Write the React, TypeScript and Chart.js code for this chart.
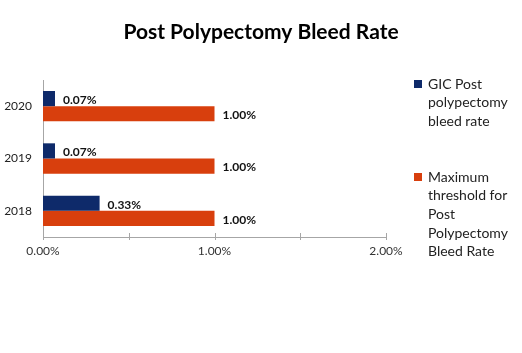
import React, { useEffect, useRef } from "react";
import { Chart, registerables } from "chart.js";

Chart.register(...registerables);

const categories = ["2020", "2019", "2018"];
const gicRate = [0.07, 0.07, 0.33];
const maxThreshold = [1.0, 1.0, 1.0];
const seriesNames = [
  "GIC Post polypectomy bleed rate",
  "Maximum threshold for Post Polypectomy Bleed Rate",
];
const legendLines = [
  ["GIC Post", "polypectomy", "bleed rate"],
  ["Maximum", "threshold for", "Post", "Polypectomy", "Bleed Rate"],
];
const xTickValues = [0, 0.5, 1, 1.5, 2];
const titleText = "Post Polypectomy Bleed Rate";

const NAVY = "#0E2A6A";
const ORANGE = "#D83F0D";
const FONT = "Lato, 'Liberation Sans', sans-serif";

const titlePlugin = {
  id: "centeredTitle",
  afterDraw(chart: any) {
    const ctx = chart.ctx;
    ctx.save();
    ctx.font = `bold 21px ${FONT}`;
    ctx.fillStyle = "#000";
    ctx.textAlign = "center";
    ctx.textBaseline = "middle";
    ctx.fillText(titleText, chart.width / 2, 32);
    ctx.restore();
  },
};

const valueLabelPlugin = {
  id: "valueLabels",
  afterDatasetsDraw(chart: any) {
    const ctx = chart.ctx;
    ctx.save();
    ctx.font = `bold 12px ${FONT}`;
    ctx.fillStyle = "#111";
    ctx.textAlign = "left";
    ctx.textBaseline = "middle";
    chart.data.datasets.forEach((ds: any, di: number) => {
      const meta = chart.getDatasetMeta(di);
      meta.data.forEach((bar: any, i: number) => {
        const v = ds.data[i];
        ctx.fillText(v.toFixed(2) + "%", bar.x + 8, bar.y + 1.5);
      });
    });
    ctx.restore();
  },
};

const axisTickPlugin = {
  id: "axisTicks",
  afterDraw(chart: any) {
    const ctx = chart.ctx;
    const xs = chart.scales.x;
    const bottom = chart.chartArea.bottom;
    ctx.save();
    ctx.strokeStyle = "#a6a6a6";
    ctx.lineWidth = 1;
    xTickValues.forEach((v) => {
      const px = Math.round(xs.getPixelForValue(v)) + 0.5;
      ctx.beginPath();
      ctx.moveTo(px, bottom - 4);
      ctx.lineTo(px, bottom + 3);
      ctx.stroke();
    });
    ctx.restore();
  },
};

const legendPlugin = {
  id: "customLegend",
  afterDraw(chart: any) {
    const ctx = chart.ctx;
    const colors = [NAVY, ORANGE];
    const starts = [84, 177];
    const lineH = 18.7;
    ctx.save();
    ctx.font = `14px ${FONT}`;
    ctx.textAlign = "left";
    ctx.textBaseline = "middle";
    legendLines.forEach((lines, i) => {
      ctx.fillStyle = colors[i];
      ctx.fillRect(414, starts[i] - 4, 8, 8);
      ctx.fillStyle = "#222";
      lines.forEach((ln, j) => {
        ctx.fillText(ln, 428, starts[i] + j * lineH);
      });
    });
    ctx.restore();
  },
};

export default function App() {
  const canvasRef = useRef<HTMLCanvasElement | null>(null);

  useEffect(() => {
    document.body.style.margin = "0";
    const canvas = canvasRef.current;
    if (!canvas) return;
    const chart = new Chart(canvas, {
      type: "bar",
      data: {
        labels: categories,
        datasets: [
          {
            label: seriesNames[0],
            data: gicRate,
            backgroundColor: NAVY,
            categoryPercentage: 0.58,
            barPercentage: 1,
          },
          {
            label: seriesNames[1],
            data: maxThreshold,
            backgroundColor: ORANGE,
            categoryPercentage: 0.58,
            barPercentage: 1,
          },
        ],
      },
      options: {
        indexAxis: "y",
        animation: false,
        responsive: false,
        maintainAspectRatio: false,
        layout: { padding: { left: 0, right: 136, top: 80, bottom: 86 } },
        plugins: {
          legend: { display: false },
          tooltip: { enabled: false },
          title: { display: false },
        },
        scales: {
          x: {
            min: 0,
            max: 2,
            afterFit: (s: any) => {
              s.height = 30;
            },
            afterBuildTicks: (s: any) => {
              s.ticks = xTickValues.map((v) => ({ value: v }));
            },
            grid: { display: false, drawTicks: false },
            border: { display: true, color: "#a6a6a6" },
            ticks: {
              padding: 7,
              color: "#333",
              font: { family: FONT, size: 12 },
              maxRotation: 0,
              autoSkip: false,
              callback: (v: any) => (Number(v) % 1 === 0 ? Number(v).toFixed(2) + "%" : ""),
            },
          },
          y: {
            afterFit: (s: any) => {
              s.width = 43;
            },
            grid: { display: false, drawTicks: false },
            border: { display: true, color: "#a6a6a6" },
            ticks: {
              padding: 11,
              color: "#222",
              font: { family: FONT, size: 12 },
            },
          },
        },
      },
      plugins: [valueLabelPlugin, axisTickPlugin, legendPlugin, titlePlugin],
    } as any);
    return () => chart.destroy();
  }, []);

  return (
    <div style={{ width: 522, height: 353 }}>
      <canvas ref={canvasRef} width={522} height={353} style={{ width: 522, height: 353, display: "block" }} />
    </div>
  );
}
